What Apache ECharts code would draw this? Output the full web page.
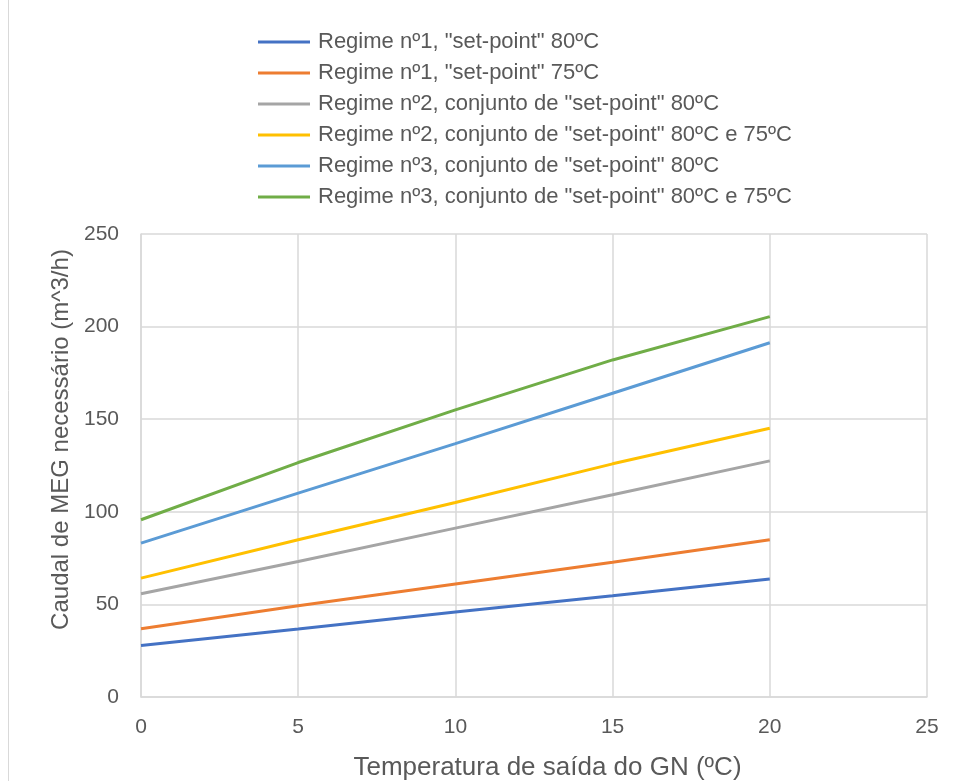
<!DOCTYPE html>
<html><head><meta charset="utf-8">
<script src="https://cdn.jsdelivr.net/npm/echarts@6/dist/echarts.min.js"></script>
<style>html,body{margin:0;padding:0;background:#fff}#c{width:956px;height:781px}</style>
</head><body><div id="c"></div>
<script>
const xValues = [0, 5, 10, 15, 20];
const seriesNames = [
  'Regime nº1, "set-point" 80ºC',
  'Regime nº1, "set-point" 75ºC',
  'Regime nº2, conjunto de "set-point" 80ºC',
  'Regime nº2, conjunto de "set-point" 80ºC e 75ºC',
  'Regime nº3, conjunto de "set-point" 80ºC',
  'Regime nº3, conjunto de "set-point" 80ºC e 75ºC'
];
const r1_80 = [27.8, 36.7, 45.9, 54.7, 63.7];
const r1_75 = [36.8, 49.3, 61.0, 72.8, 84.9];
const r2_80 = [55.7, 73.2, 91.2, 109.2, 127.5];
const r2_8075 = [64.2, 84.9, 105.0, 125.9, 145.1];
const r3_80 = [83.1, 110.1, 136.8, 164.0, 191.3];
const r3_8075 = [95.7, 126.6, 155.0, 182.0, 205.4];
const colors = ['#4472C4', '#ED7D31', '#A5A5A5', '#FFC000', '#5B9BD5', '#70AD47'];
const allValues = [r1_80, r1_75, r2_80, r2_8075, r3_80, r3_8075];

const font = 'Liberation Sans, Arial, sans-serif';
const chart = echarts.init(document.getElementById('c'), null, {renderer: 'canvas'});
chart.setOption({
  animation: false,
  color: colors,
  graphic: [{type: 'rect', shape: {x: 8.5, y: -2, width: 960, height: 790}, style: {fill: 'none', stroke: '#d9d9d9', lineWidth: 1}}],
  legend: {
    orient: 'vertical', left: 253, top: 26, itemWidth: 52, itemHeight: 3, itemGap: 9,
    icon: 'rect',
    textStyle: {color: '#595959', fontSize: 22, lineHeight: 22, fontFamily: font, padding: [0, 0, 0, 3]},
    data: seriesNames
  },
  grid: {left: 141, right: 29, top: 234, bottom: 84, containLabel: false, outerBoundsMode: 'none'},
  xAxis: {
    type: 'value', min: 0, max: 25, interval: 5,
    name: 'Temperatura de saída do GN (ºC)', nameLocation: 'middle', nameGap: 58,
    nameTextStyle: {color: '#595959', fontSize: 26, fontFamily: font, padding: [0, 0, 0, 27]},
    axisLine: {show: true, lineStyle: {color: '#d9d9d9', width: 1.5}},
    axisTick: {show: false},
    axisLabel: {color: '#595959', fontSize: 21, fontFamily: font, margin: 20},
    splitLine: {show: true, lineStyle: {color: '#d9d9d9', width: 1.5}}
  },
  yAxis: {
    type: 'value', min: 0, max: 250, interval: 50,
    name: 'Caudal de MEG necessário (m^3/h)', nameLocation: 'middle', nameGap: 64,
    nameTextStyle: {color: '#595959', fontSize: 24, fontFamily: font, padding: [0, 0, 0, 52]},
    axisLine: {show: true, lineStyle: {color: '#d9d9d9', width: 1.5}},
    axisTick: {show: false},
    axisLabel: {color: '#595959', fontSize: 21, fontFamily: font, margin: 22},
    splitLine: {show: true, lineStyle: {color: '#d9d9d9', width: 1.5}}
  },
  series: seriesNames.map((n, i) => ({
    name: n, type: 'line', showSymbol: false, symbol: 'none',
    lineStyle: {width: 3, color: colors[i]},
    data: xValues.map((x, j) => [x, allValues[i][j]])
  }))
});
</script></body></html>
